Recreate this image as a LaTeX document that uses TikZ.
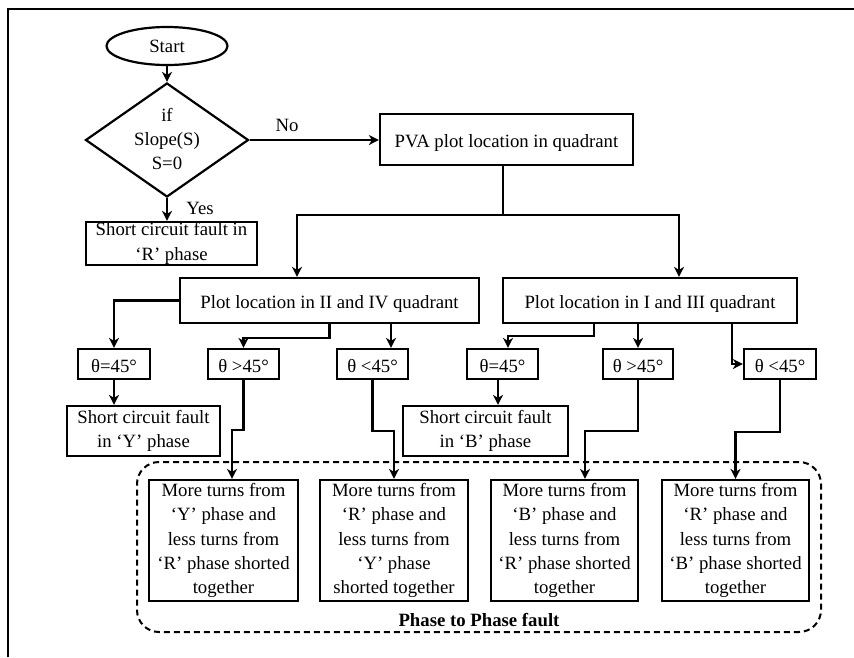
\documentclass[tikz,border=0pt]{standalone}
\usepackage{fontspec}
\setmainfont{Liberation Serif}
\usetikzlibrary{shapes.geometric,arrows.meta}

% invisible struts: a tall first line and a deep last line, so text sits low like word-processor text
\newcommand\topstrut{\rule{0pt}{20.7pt}}
\newcommand\botstrut{\rule[-4.05pt]{0pt}{0pt}}

\begin{document}
\begin{tikzpicture}[x=1pt,y=-1pt,
  every node/.style={font=\fontsize{18.75}{24.3}\selectfont, inner sep=0pt},
  struts/.style={execute at begin node=\topstrut, execute at end node=\botstrut},
  box/.style={draw, line width=2.2pt, rectangle, align=center, struts},
  arr/.style={line width=2.2pt, -{Stealth[length=10pt,width=10pt,inset=3pt]}},
  link/.style={line width=2.2pt},
  group/.style={draw, line width=2pt, dash pattern=on 6pt off 4pt, rounded corners=22pt, rectangle}
]
% page and frame
\fill[white] (0,0) rectangle (854,657);
\useasboundingbox (0,0) rectangle (854,657);
\draw[line width=2pt] (8,657) -- (8,9) -- (854,9);

% start and decision
\node[draw, ellipse, line width=2.2pt, minimum width=121pt, minimum height=38pt] (start) at (167,46) {Start};
\node[draw, diamond, line width=2.2pt, minimum width=163pt, minimum height=114pt] (dec) at (167,140) {};
\node[align=center, struts] (dectext) at (167,141) {if\\Slope(S)\\S=0};
\node[box, minimum width=171pt, minimum height=43pt] (sR) at (171.5,243.5) {Short circuit fault in\\‘R’ phase};
\node[box, minimum width=253pt, minimum height=51pt] (pva) at (506.5,139.5) {PVA plot location in quadrant};
\node (no) at (287,125) {No};
\node (yes) at (200,208) {Yes};

% quadrant boxes
\node[box, minimum width=299pt, minimum height=45pt] (q24) at (329.5,300.5) {Plot location in II and IV quadrant};
\node[box, minimum width=294pt, minimum height=45pt] (q13) at (650,300.5) {Plot location in I and III quadrant};

% angle tests
\node[box, minimum width=72pt, minimum height=30pt] (a1) at (114,364) {θ=45°};
\node[box, minimum width=71pt, minimum height=30pt] (a2) at (243.5,364) {θ >45°};
\node[box, minimum width=71pt, minimum height=30pt] (a3) at (372.5,364) {θ <45°};
\node[box, minimum width=71pt, minimum height=30pt] (b1) at (502.5,364) {θ=45°};
\node[box, minimum width=70pt, minimum height=30pt] (b2) at (638,364) {θ >45°};
\node[box, minimum width=72pt, minimum height=30pt] (b3) at (780,364) {θ <45°};

% single phase results
\node[box, minimum width=153pt, minimum height=50pt] (sY) at (143.5,431) {Short circuit fault\\in ‘Y’ phase};
\node[box, minimum width=165pt, minimum height=50pt] (sB) at (485.5,431) {Short circuit fault\\in ‘B’ phase};

% phase to phase group
\node[group, minimum width=684pt, minimum height=170pt] (pp) at (479,547) {};
\node[font=\fontsize{18.75}{24.3}\selectfont\bfseries] (pplabel) at (479,620) {Phase to Phase fault};
\node[box, minimum width=149pt, minimum height=121pt] (m1) at (223.5,540.5) {More turns from\\‘Y’ phase and\\less turns from\\‘R’ phase shorted\\together};
\node[box, minimum width=148pt, minimum height=121pt] (m2) at (394,540.5) {More turns from\\‘R’ phase and\\less turns from\\‘Y’ phase\\shorted together};
\node[box, minimum width=147pt, minimum height=121pt] (m3) at (564.5,540.5) {More turns from\\‘B’ phase and\\less turns from\\‘R’ phase shorted\\together};
\node[box, minimum width=147pt, minimum height=121pt] (m4) at (735.5,540.5) {More turns from\\‘R’ phase and\\less turns from\\‘B’ phase shorted\\together};

% junction points
\coordinate (j) at (503,215);
\coordinate (jl) at (297,215);
\coordinate (jr) at (679,215);
\coordinate (x391) at (391,0);
\coordinate (x594) at (594,0);
\coordinate (x732) at (732,0);
\coordinate (c1) at (232,430);
\coordinate (c3) at (508,336);
\coordinate (c4) at (585,431);

% connectors
\draw[arr] (start) -- (dec);
\draw[arr] (dec.east) -- (dec.east -| pva.west);
\draw[arr] (dec.south) -- (dec.south |- sR.north);
\draw[link] ([xshift=-3.5pt]pva.south) -- (j);
\draw[arr] (j) -| (jl |- q24.north);
\draw[arr] (j) -| (jr |- q13.north);

\draw[arr] (q24.west) -| (a1.north);
\draw[arr] (q24.south) -- ++(0,14) -| (a2.north);
\draw[arr] (q24.south -| x391) -- (a3.north -| x391);

\draw[arr] (q13.south -| x594) |- (c3) -- (c3 |- b1.north);
\draw[arr] (q13.south -| b2.north) -- (b2.north);
\draw[arr] (q13.south -| x732) |- (b3.west);

\draw[arr] (a1.south) -- (a1.south |- sY.north);
\draw[arr] ([xshift=-4.5pt]b1.south) -- ([xshift=-4.5pt]b1.south |- sB.north);

\draw[arr] (a2.south) |- (c1) -- (c1 |- m1.north);
\draw[arr] (a3.south) -- ++(0,51) -| (m2.north);
\draw[arr] (b2.south) |- (c4) -- (c4 |- m3.north);
\draw[arr] (b3.south) -- ++(0,52) -| (m4.north);
\end{tikzpicture}
\end{document}
